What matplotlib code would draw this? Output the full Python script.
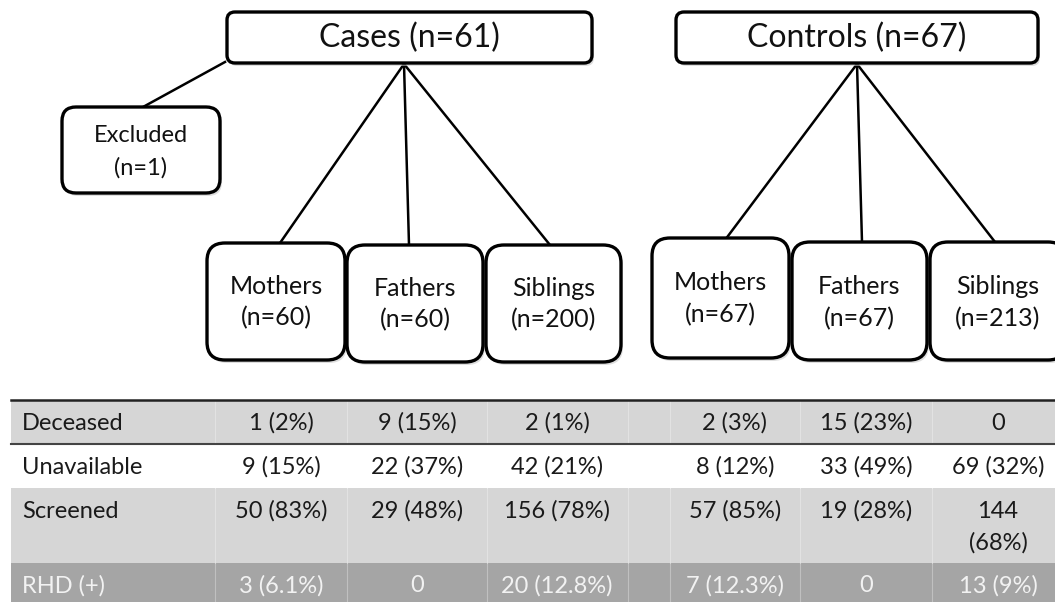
import numpy as np
from matplotlib import pyplot as plt
from matplotlib.patches import FancyBboxPatch, Rectangle

plt.rcParams['font.family'] = ['Lato', 'DejaVu Sans']

# flowchart content
groups = ["Cases (n=61)", "Controls (n=67)"]
members = ["Mothers", "Fathers", "Siblings"]
cases_n = [60, 60, 200]
controls_n = [67, 67, 213]
excluded = "Excluded\n(n=1)"

# table content
row_labels = ["Deceased", "Unavailable", "Screened", "RHD (+)"]
cases_vals = [["1 (2%)", "9 (15%)", "2 (1%)"],
              ["9 (15%)", "22 (37%)", "42 (21%)"],
              ["50 (83%)", "29 (48%)", "156 (78%)"],
              ["3 (6.1%)", "0", "20 (12.8%)"]]
controls_vals = [["2 (3%)", "15 (23%)", "0"],
                 ["8 (12%)", "33 (49%)", "69 (32%)"],
                 ["57 (85%)", "19 (28%)", "144\n(68%)"],
                 ["7 (12.3%)", "0", "13 (9%)"]]

W, H = 1055, 602
fig = plt.figure(figsize=(W / 100, H / 100), dpi=100)
ax = fig.add_axes([0, 0, 1, 1])
ax.set_xlim(0, W)
ax.set_ylim(H, 0)
ax.axis('off')


def box(x0, y0, x1, y1, r, lines, fs, ty, gap):
    # soft shadow then the box itself
    sh = FancyBboxPatch((x0 + 2, y0 + 3), x1 - x0, y1 - y0,
                        boxstyle="round,pad=0,rounding_size=%g" % r,
                        fc='#c8c8c8', ec='none', alpha=0.6, zorder=2)
    ax.add_patch(sh)
    b = FancyBboxPatch((x0, y0), x1 - x0, y1 - y0,
                       boxstyle="round,pad=0,rounding_size=%g" % r,
                       fc='white', ec='black', lw=2.4, zorder=3)
    ax.add_patch(b)
    for k, t in enumerate(lines):
        ax.text((x0 + x1) / 2, ty + k * gap, t, ha='center', va='center',
                fontsize=fs, color='#111111', zorder=4)


# connectors
ax.plot([225, 143], [62, 107], color='black', lw=1.8, zorder=1)
case_tops = [(280, 243), (409, 245), (550, 245)]
ctrl_tops = [(725, 240), (862, 242), (995, 242)]
for (x, y) in case_tops:
    ax.plot([404, x], [64, y], color='black', lw=1.8, zorder=1)
for (x, y) in ctrl_tops:
    ax.plot([857, x], [64, y], color='black', lw=1.8, zorder=1)

# top boxes
box(227, 12, 592, 63, 8, [groups[0]], 23, 38, 0)
box(676, 12, 1038, 63, 8, [groups[1]], 23, 38, 0)
box(62, 107, 220, 193, 14, excluded.split("\n"), 17, 135, 33)

# member boxes
case_boxes = [(207, 243, 345, 360), (347, 245, 483, 362), (486, 245, 621, 362)]
ctrl_boxes = [(652, 238, 789, 358), (792, 242, 927, 360), (930, 242, 1066, 360)]
for i, (x0, y0, x1, y1) in enumerate(case_boxes):
    box(x0, y0, x1, y1, 18, [members[i], "(n=%d)" % cases_n[i]], 18,
        y0 + 43, 32)
for i, (x0, y0, x1, y1) in enumerate(ctrl_boxes):
    box(x0, y0, x1, y1, 18, [members[i], "(n=%d)" % controls_n[i]], 18,
        y0 + 45, 32)

# table
row_edges = [400, 444, 488, 563, 602]
row_colors = ['#d6d6d6', 'white', '#d6d6d6', '#a5a5a5']
text_colors = ['#1a1a1a', '#1a1a1a', '#1a1a1a', '#f2f2f2']
col_edges = [11, 215, 347, 487, 628, 670, 800, 932, 1066]
col_centers = [281, 417, 557, 735, 866, 998]

for i in range(4):
    ax.add_patch(Rectangle((11, row_edges[i]), W - 11, row_edges[i + 1] - row_edges[i],
                           fc=row_colors[i], ec='none', zorder=1))
    for xe in col_edges[1:-1]:
        ax.plot([xe, xe], [row_edges[i], row_edges[i + 1]], color='white',
                lw=0.8, alpha=0.3, zorder=1.5)
    ty = row_edges[i] + 23
    ax.text(22, ty, row_labels[i], ha='left', va='center', fontsize=17,
            color=text_colors[i], zorder=2)
    vals = cases_vals[i] + controls_vals[i]
    for j, v in enumerate(vals):
        for k, part in enumerate(v.split("\n")):
            ax.text(col_centers[j], ty + k * 32, part, ha='center', va='center',
                    fontsize=17, color=text_colors[i], zorder=2)

ax.plot([11, W], [400, 400], color='#222222', lw=1.8, zorder=3)
ax.plot([11, W], [444, 444], color='#444444', lw=1.5, zorder=3)

fig.savefig('out.png', dpi=100)
